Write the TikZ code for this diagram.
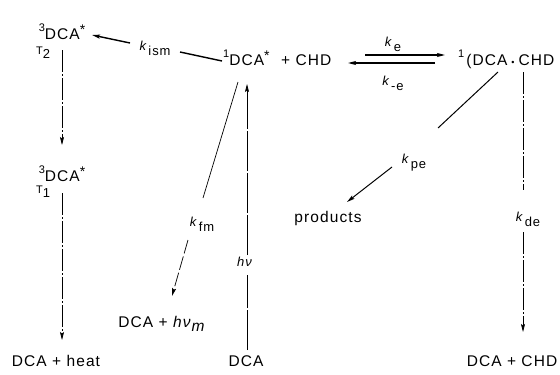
\documentclass[tikz,border=0pt]{standalone}
\usepackage{fontspec}
\setmainfont{Liberation Sans}[LetterSpace=7]
\usetikzlibrary{arrows.meta}
\newcommand\mysup[1]{\raisebox{0.5em}{\fontsize{11}{11}\selectfont #1}}
\newcommand\myast{\raisebox{0.3em}{\fontsize{14}{14}\selectfont *}}
\newcommand\kk[1]{\textit{k}\kern1pt\raisebox{-5pt}{#1}}
\newcommand\tsub[1]{\raisebox{-4pt}{\fontsize{13}{13}\selectfont #1}}
\tikzset{
  txt/.style={inner sep=0pt, font=\fontsize{15.5}{18}\selectfont},
  klab/.style={inner sep=0pt, font=\fontsize{13}{15}\selectfont},
  tlab/.style={inner sep=0pt, font=\fontsize{11}{13}\selectfont},
  ln/.style={line width=0.7pt},
  thk/.style={line width=1.4pt},
  arr/.style={-{Stealth[length=8pt,width=4pt,inset=1.5pt]}},
  dd/.style={dash pattern=on 22pt off 2pt on 2pt off 2pt},
  dsh/.style={dash pattern=on 14pt off 3pt},
}
\begin{document}
\begin{tikzpicture}[x=1pt,y=-1pt]
\useasboundingbox[fill=white] (0,0) rectangle (560,375);
% nodes
\node[txt, anchor=base] (A3) at (62,39) {\mysup{3}DCA\myast};
\node[tlab, anchor=base west] (T2) at (36,54) {T\tsub{2}};
\node[klab, anchor=base] (kism) at (155,50) {\kk{ism}};
\node[txt, anchor=base west] (S1) at (223,65) {\mysup{1}DCA\myast};
\node[txt, anchor=base west] (CHD1) at (281,65) {+ CHD};
\node[klab, anchor=base] (ke) at (393,46) {\kk{e}};
\node[klab, anchor=base] (kme) at (393,85) {\kk{-e}};
\node[txt, anchor=base west] (X1) at (458,65) {\mysup{1}\kern2pt(DCA\kern4pt{\fontsize{9}{9}\selectfont•}\kern4pt CHD};
\node[txt, anchor=base] (B3) at (62,181) {\mysup{3}DCA\myast};
\node[tlab, anchor=base west] (T1) at (36,193) {T\tsub{1}};
\node[klab, anchor=base] (kfm) at (202,226) {\kk{fm}};
\node[txt, anchor=base] (prod) at (328,222) {products};
\node[klab, anchor=base] (kpe) at (414,163) {\kk{pe}};
\node[klab, anchor=base] (kde) at (528,221) {\kk{de}};
\node[klab, anchor=base] (hnu) at (245,266) {\textit{hν}};
\node[txt, anchor=base] (Dhm) at (162,327) {DCA + \textit{hν}\raisebox{-4pt}{\textit{m}}};
\node[txt, anchor=base] (H) at (56,366) {DCA + heat};
\node[txt, anchor=base] (D) at (246,366) {DCA};
\node[txt, anchor=base] (DC) at (512,366) {DCA + CHD};
% connectors
\draw[ln,dd,arr] ([shift={(0,11)}]A3.base) -- ([shift={(0,-36)}]B3.base);
\draw[ln,dd,arr] ([shift={(0,12)}]B3.base) -- ([shift={(6,-26)}]H.base);
\draw[thk,arr] ([shift={(-25,-7)}]kism.base) -- ([shift={(30,-4)}]A3.base);
\draw[thk] ([shift={(25,2)}]kism.base) -- ([shift={(-1,-4)}]S1.base west);
\draw[thk,arr] ([shift={(-28,9)}]ke.base) -- ([shift={(-13,-10)}]X1.base west);
\draw[thk,arr] ([shift={(-23,-2)}]X1.base west) -- ([shift={(67,-2)}]CHD1.base west);
\draw[ln] ([shift={(15,17)}]S1.base west) -- ([shift={(1,-28)}]kfm.base);
\draw[ln,dsh,arr] ([shift={(-14,14)}]kfm.base) -- ([shift={(10,-31)}]Dhm.base);
\draw[ln,dash pattern=on 40pt off 2pt] ([shift={(1,-16)}]D.base) -- ([shift={(2,9)}]hnu.base);
\draw[ln,dash pattern=on 40pt off 2pt,arr] ([shift={(2,-11)}]hnu.base) -- ([shift={(24,19)}]S1.base west);
\draw[line width=1pt] ([shift={(40,7)}]X1.base west) -- ([shift={(24,-35)}]kpe.base);
\draw[line width=1pt,arr] ([shift={(-22,4)}]kpe.base) -- ([shift={(19,-20)}]prod.base);
\draw[ln,dd] ([shift={(65,7)}]X1.base west) -- ([shift={(-5,-31)}]kde.base);
\draw[ln,dd,arr] ([shift={(-5,11)}]kde.base) -- ([shift={(11,-34)}]DC.base);
\end{tikzpicture}
\end{document}
